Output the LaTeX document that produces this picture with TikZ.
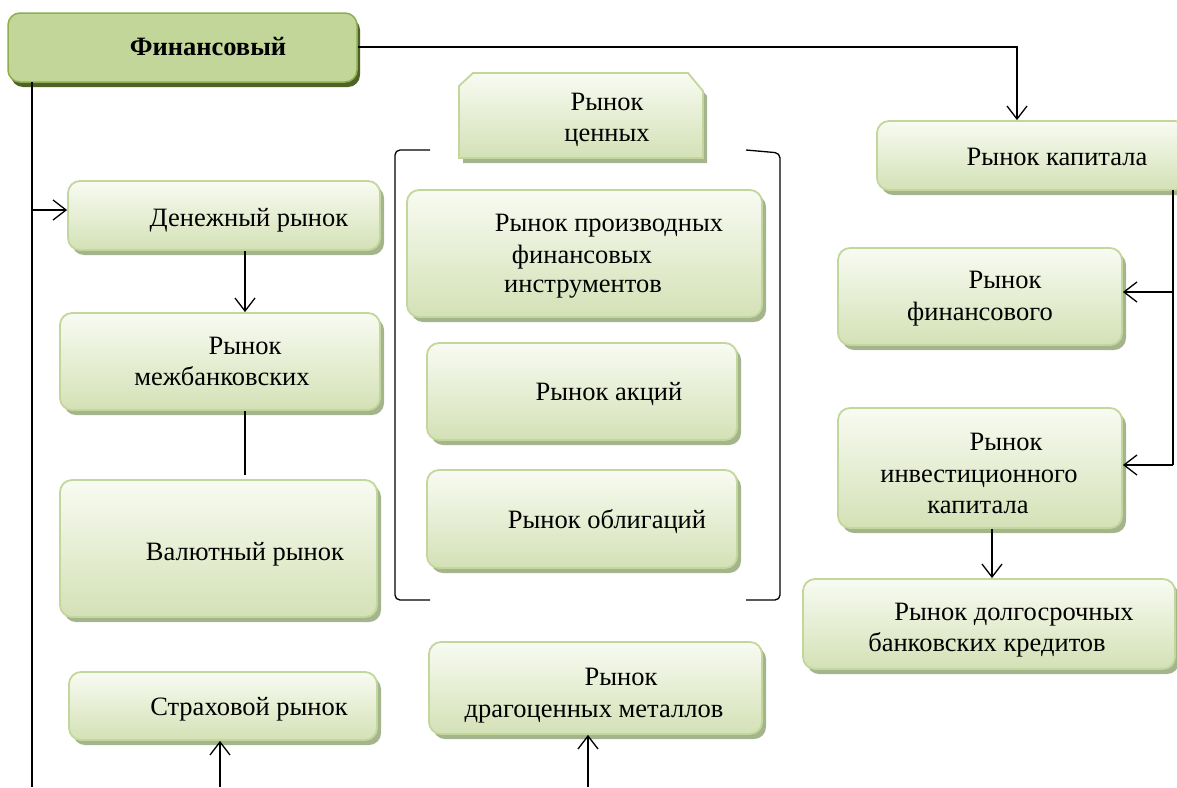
\documentclass[tikz,border=0pt]{standalone}
\usepackage{fontspec}
\setmainfont{Liberation Serif}
\usetikzlibrary{arrows.meta,shadows}
\definecolor{topc}{HTML}{F8FBF2}
\definecolor{botc}{HTML}{D4E1B6}
\definecolor{bord}{HTML}{C3D69B}
\definecolor{shad}{HTML}{A4B48C}
\definecolor{gmid}{HTML}{9BBB59}
\definecolor{glight}{HTML}{C2D69A}
\definecolor{gbord}{HTML}{8CAE4C}
\definecolor{gshad}{HTML}{4F6228}
\tikzset{
  pbox/.style={rounded corners=12pt, draw=bord, line width=1.8pt, top color=topc, bottom color=botc, inner sep=0pt,
    drop shadow={shadow xshift=4pt, shadow yshift=-5pt, fill=shad, opacity=1}},
  gbox/.style={rounded corners=12pt, draw=gbord, line width=1.5pt, top color=glight, middle color=gmid, bottom color=glight, inner sep=0pt,
    drop shadow={shadow xshift=3pt, shadow yshift=-5pt, fill=gshad, opacity=1}},
  txt/.style={font=\fontsize{26.5}{31}\selectfont, inner sep=0pt, anchor=base},
  conn/.style={line width=1.3pt, draw=black},
  arr/.style={conn, -{Straight Barb[length=13pt,width=20pt,line width=1.3pt]}},
}
\begin{document}
\begin{tikzpicture}[x=1pt,y=-1pt]
\useasboundingbox (0,0) rectangle (1177,787);
% top box
\node[gbox, minimum width=349pt, minimum height=69pt] (fin) at (182.5,47.5) {};
\node[txt, font=\fontsize{26.5}{31}\selectfont\bfseries] (finT) at (208,55) {Финансовый};
% left column
\node[pbox, minimum width=312pt, minimum height=69pt] (den) at (224,215.5) {};
\node[pbox, minimum width=320pt, minimum height=97pt] (mej) at (220,361.5) {};
\node[pbox, minimum width=317pt, minimum height=137pt] (val) at (218.5,548.5) {};
\node[pbox, minimum width=308pt, minimum height=68pt] (str) at (223,706) {};
% middle
\path[draw=bord, line width=1.8pt, top color=topc, bottom color=botc,
  drop shadow={shadow xshift=4pt, shadow yshift=-5pt, fill=shad, opacity=1}]
  (459,158) -- (459,86) -- (473,73) -- (688,73) -- (703,91) -- (703,158) -- cycle;
\coordinate (cen) at (581,115);
\node[pbox, minimum width=355pt, minimum height=127pt] (proiz) at (584.5,253.5) {};
\node[pbox, minimum width=310pt, minimum height=97pt] (akc) at (582,391.5) {};
\node[pbox, minimum width=310pt, minimum height=98pt] (obl) at (582,519) {};
\node[pbox, minimum width=333pt, minimum height=92pt] (drag) at (595.5,688) {};
% right
\node[pbox, minimum width=310pt, minimum height=69pt] (kap) at (1032,155.5) {};
\node[pbox, minimum width=284pt, minimum height=97pt] (fins) at (980,296.5) {};
\node[pbox, minimum width=284pt, minimum height=120pt] (inv) at (980,468) {};
\node[pbox, minimum width=372pt, minimum height=90pt] (dolg) at (989,624) {};
% texts
\node[txt] (t1) at (607,110) {Рынок};
\node[txt] (t2) at (607,141) {ценных};
\node[txt] (t3) at (249,226) {Денежный рынок};
\node[txt] (t4) at (245,354) {Рынок};
\node[txt] (t5) at (222,385) {межбанковских};
\node[txt] (t6) at (245,560) {Валютный рынок};
\node[txt] (t7) at (249,715) {Страховой рынок};
\node[txt] (t8) at (609,231) {Рынок производных};
\node[txt] (t9) at (582,263) {финансовых};
\node[txt] (t10) at (583,292) {инструментов};
\node[txt] (t11) at (609,400) {Рынок акций};
\node[txt] (t12) at (607,528) {Рынок облигаций};
\node[txt] (t13) at (621,685) {Рынок};
\node[txt] (t14) at (594,717) {драгоценных металлов};
\node[txt] (t15) at (1057,165) {Рынок капитала};
\node[txt] (t16) at (1005,288) {Рынок};
\node[txt] (t17) at (980,320) {финансового};
\node[txt] (t18) at (1006,450) {Рынок};
\node[txt] (t19) at (979,482) {инвестиционного};
\node[txt] (t20) at (978,513) {капитала};
\node[txt] (t21) at (1014,620) {Рынок долгосрочных};
\node[txt] (t22) at (987,651) {банковских кредитов};
% brackets
\draw[conn, rounded corners=5pt] (430,150) -- (395,150) -- (395,600) -- (430,600);
\draw[conn, rounded corners=5pt] (746,150) -- (780,153) -- (780,600) -- (746,600);
% connectors
\coordinate (c1) at (1017,47);
\draw[arr] (fin.east |- 0,47) -- (c1) -- (kap.north -| c1);
\coordinate (lb) at (32,787);
\draw[conn] (32,82) -- (lb);
\draw[arr] (32,210) -- (den.west |- 0,210);
\draw[arr] (den.south -| 245,0) -- (mej.north -| 245,0);
\draw[conn] (mej.south -| 245,0) -- (245,475);
\coordinate (b1) at (220,787);
\draw[arr] (b1) -- (str.south -| b1);
\coordinate (b2) at (588,787);
\draw[arr] (b2) -- (drag.south -| b2);
\coordinate (r1) at (1173,190);
\draw[conn] (r1) -- (1173,465);
\draw[arr] (1173,292) -- (fins.east |- 0,292);
\draw[arr] (1173,465) -- (inv.east |- 0,465);
\draw[arr] (inv.south -| 992,0) -- (dolg.north -| 992,0);
\end{tikzpicture}
\end{document}
